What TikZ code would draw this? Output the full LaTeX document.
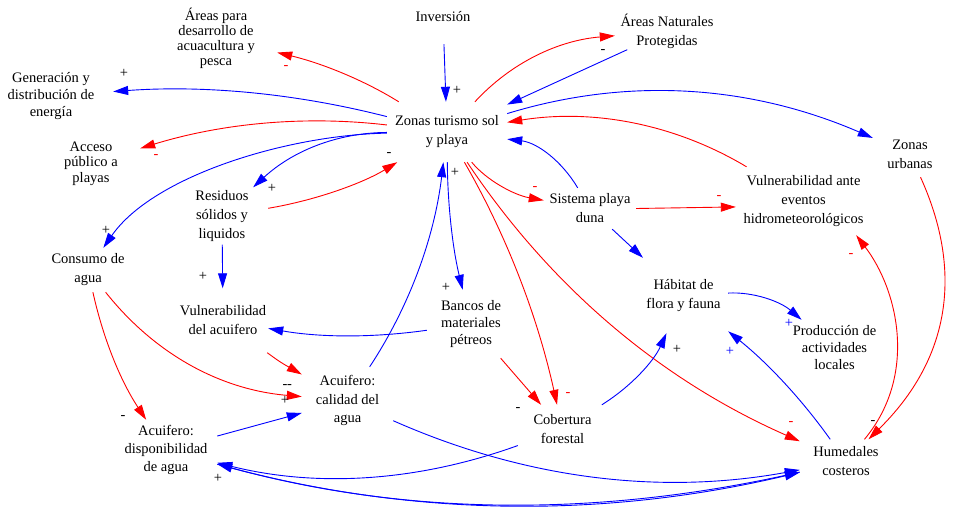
\documentclass[tikz,border=0pt]{standalone}
\usepackage{fontspec}
\setmainfont{Liberation Serif}
\usetikzlibrary{arrows.meta}
\begin{document}
\begin{tikzpicture}[x=1pt,y=-1pt,
  var/.style={align=center, inner sep=0pt, font=\fontsize{14.5}{19}\selectfont},
  lnk/.style={line width=0.9pt, -{Triangle[length=15pt,width=9pt]}},
  rl/.style={lnk, red},
  bl/.style={lnk, blue},
  sg/.style={inner sep=0pt, font=\fontsize{14.5}{17}\selectfont}]
\fill[white] (0,0) rectangle (956,516);
\useasboundingbox (0,0) rectangle (956,516);
% variables
\node[var, minimum width=40, minimum height=54] (inv) at (443,17) {Inversión};
\node[var, minimum width=122, minimum height=60, font=\fontsize{14.5}{15}\selectfont] (apd) at (216,38) {Áreas para\\desarrollo de\\acuacultura y\\pesca};
\node[var, minimum width=124, minimum height=50, font=\fontsize{14.5}{17}\selectfont] (gen) at (51,96) {Generación y\\distribución de\\energía};
\node[var, minimum width=98, minimum height=46, font=\fontsize{14.5}{15.5}\selectfont] (acc) at (91,163.5) {Acceso\\público a\\playas};
\node[var, minimum width=120, minimum height=60] (Z) at (447,132) {Zonas turismo sol\\y playa};
\node[var, minimum width=104, minimum height=36] (anp) at (667,31.5) {Áreas Naturales\\Protegidas};
\node[var, minimum width=74, minimum height=46] (zu) at (910,154) {Zonas\\urbanas};
\node[var, minimum width=92, minimum height=57] (res) at (222,216) {Residuos\\sólidos y\\liquidos};
\node[var, minimum width=92, minimum height=41] (spd) at (590,208.5) {Sistema playa\\duna};
\node[var, minimum width=135, minimum height=68] (vae) at (803.5,201) {Vulnerabilidad ante\\eventos\\hidrometeorológicos};
\node[var, minimum width=90, minimum height=44] (con) at (88,270) {Consumo de\\agua};
\node[var, minimum width=90, minimum height=64] (vac) at (223,320.5) {Vulnerabilidad\\del acuifero};
\node[var, minimum width=88, minimum height=68, font=\fontsize{14.5}{17}\selectfont] (ban) at (471,324) {Bancos de\\materiales\\pétreos};
\node[var, minimum width=89, minimum height=75] (hab) at (683.5,295.5) {Hábitat de\\flora y fauna};
\node[var, minimum width=88, minimum height=56, font=\fontsize{14.5}{17}\selectfont] (pro) at (834.5,348) {Producción de\\actividades\\locales};
\node[var, minimum width=91, minimum height=67, font=\fontsize{14.5}{18.5}\selectfont] (cal) at (347.5,400.5) {Acuifero:\\calidad del\\agua};
\node[var, minimum width=102, minimum height=60, font=\fontsize{14.5}{18}\selectfont] (dis) at (166,450) {Acuifero:\\disponibilidad\\de agua};
\node[var, minimum width=89, minimum height=49] (cob) at (562.5,429.5) {Cobertura\\forestal};
\node[var, minimum width=92, minimum height=44] (hum) at (846,461.5) {Humedales\\costeros};
% links
\draw[rl] (Z) .. controls (365,80.7) and (322.3,63.3) .. (apd);
\draw[bl] (Z) .. controls (295.7,93.3) and (204.3,85) .. (gen);
\draw[rl] (Z) .. controls (304.3,115.3) and (222,123.3) .. (acc);
\draw[bl] (Z) .. controls (287,135) and (153,176) .. (con);
\draw[bl] (Z) .. controls (335.7,132.8) and (291.7,151.8) .. (res);
\draw[rl] (res) .. controls (316,200.3) and (363,183) .. (Z);
\draw[bl] (inv) -- (Z);
\draw[rl] (Z) .. controls (511.7,62) and (559,40.3) .. (anp);
\draw[bl] (anp) -- (Z);
\draw[bl] (Z) .. controls (629,76.3) and (751,85.3) .. (zu);
\draw[rl] (vae) .. controls (676.3,124.7) and (594.3,108.3) .. (Z);
\draw[bl] (spd) .. controls (561.7,161) and (537.3,142.7) .. (Z);
\draw[rl] (Z) .. controls (486.3,180) and (513.7,195) .. (spd);
\draw[bl] (Z) .. controls (447.7,205.3) and (452.7,248.7) .. (ban);
\draw[bl] (cal) .. controls (411,304) and (434.7,235) .. (Z);
\draw[rl] (Z) .. controls (507.7,237.3) and (538,318.3) .. (cob);
\draw[rl] (Z) .. controls (550.7,287.3) and (660.7,380) .. (hum);
\draw[rl] (spd.east) -- (vae.-175);
\draw[bl] (spd) -- (hab);
\draw[rl] (hum) .. controls (918,375) and (898,290) .. (vae.-33);
\draw[rl] (zu) .. controls (964,273) and (949.3,359.7) .. (hum);
\draw[bl] (hab) .. controls (753.3,291.7) and (780,301.3) .. (pro);
\draw[bl] (cob) .. controls (631.3,386.3) and (653.7,361.3) .. (hab);
\draw[bl] (hum) .. controls (801.3,398.7) and (767.3,362.7) .. (hab);
\draw[bl] (ban) .. controls (374.3,337.7) and (321.3,337.7) .. (vac);
\draw[rl] (ban) -- (cob);
\draw[bl] (res) -- (vac);
\draw[rl] (vac) .. controls (280,362) .. (cal);
\draw[rl] (con) .. controls (155,354.4) and (220.7,389.7) .. (cal);
\draw[rl] (con) .. controls (102.3,334.7) and (118.7,378) .. (dis);
\draw[bl] (dis) -- (cal);
\draw[bl] (cal) .. controls (525,479) and (660,495.3) .. (hum);
\draw[bl] (cob) .. controls (417.3,481.7) and (317,487.7) .. (dis);
\draw[bl] (dis) .. controls (407,517) and (601.3,519.3) .. (hum);
\draw[bl] (hum) .. controls (600,518) and (405.7,515.7) .. (dis);
% polarity signs
\node[sg, red] (p1) at (286,68) {-};
\node[sg] (p2) at (124,73) {+};
\node[sg, red] (p3) at (156,157) {-};
\node[sg] (p4) at (106,230) {+};
\node[sg] (p5) at (272,188) {+};
\node[sg] (p6) at (389,155) {-};
\node[sg] (p7) at (457,90) {+};
\node[sg] (p8) at (603,52) {-};
\node[sg] (p9) at (455,172) {+};
\node[sg, red] (p10) at (535,189) {-};
\node[sg, red] (p11) at (719,198) {-};
\node[sg, red] (p12) at (851,256) {-};
\node[sg] (p13) at (446,287) {+};
\node[sg] (p14) at (203,276) {+};
\node[sg] (p15) at (285,387) {-};
\node[sg] (p16) at (289.5,387) {-};
\node[sg] (p17) at (285,400) {+};
\node[sg] (p18) at (123,418) {-};
\node[sg] (p19) at (218,478) {+};
\node[sg] (p20) at (518,410) {-};
\node[sg, red] (p21) at (568,395) {-};
\node[sg] (p22) at (677,349) {+};
\node[sg, blue] (p23) at (789,323) {+};
\node[sg, blue] (p24) at (730,351) {+};
\node[sg, red] (p25) at (791,424) {-};
\node[sg] (p26) at (873,423) {-};
\end{tikzpicture}
\end{document}
